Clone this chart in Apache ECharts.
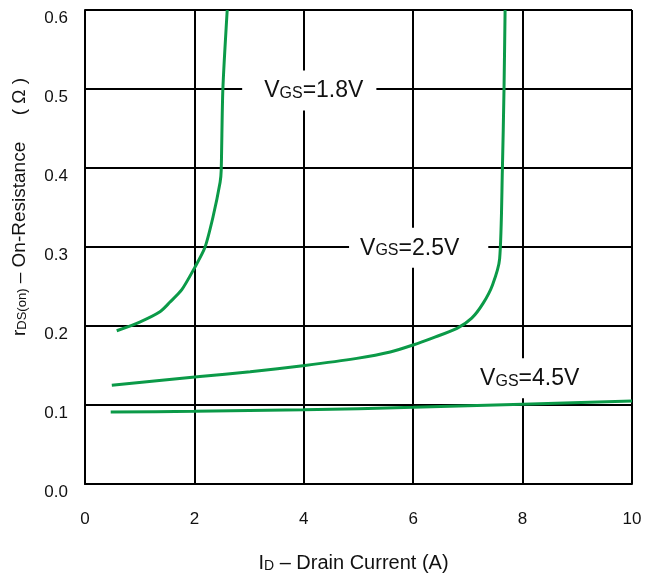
<!DOCTYPE html>
<html>
<head>
<meta charset="utf-8">
<script src="https://cdn.jsdelivr.net/npm/echarts@6/dist/echarts.min.js"></script>
<style>
  html, body { margin: 0; padding: 0; background: #fff; }
  #chart { width: 645px; height: 579px; }
</style>
</head>
<body>
<div id="chart"></div>
<script>
// drain current (A) and on-resistance (ohm)
const id18 = [0.58, 1.0, 1.37, 1.55, 1.77, 1.99, 2.19, 2.34, 2.47, 2.49, 2.52, 2.60];
const r18 = [0.194, 0.205, 0.218, 0.230, 0.246, 0.272, 0.299, 0.338, 0.382, 0.397, 0.499, 0.6];

const id25 = [0.49, 2.10, 3.02, 4.02, 4.97, 5.58, 6.00, 6.36, 6.80, 7.07, 7.28, 7.45, 7.58, 7.63, 7.66, 7.68];
const r25 = [0.125, 0.136, 0.142, 0.150, 0.159, 0.167, 0.176, 0.185, 0.197, 0.210, 0.229, 0.252, 0.285, 0.397, 0.499, 0.6];

const id45 = [0.47, 2, 4, 6, 8, 10];
const r45 = [0.091, 0.092, 0.094, 0.097, 0.101, 0.105];

const xTicks = [0, 2, 4, 6, 8, 10];
const yTicks = [0, 0.1, 0.2, 0.3, 0.4, 0.5, 0.6];

// curve labels: gate voltage and where the label sits (data coords)
const vgsLabels = ['1.8V', '2.5V', '4.5V'];
const labelX = [4.1, 6.1, 8.13];
const labelY = [0.498, 0.299, 0.134];

const green = '#0b9a48';
const font = 'Liberation Sans, Arial, sans-serif';

const pairs = (xs, ys) => xs.map((x, i) => [x, ys[i]]);

const curve = (name, xs, ys) => ({
  name: name,
  type: 'line',
  data: pairs(xs, ys),
  showSymbol: false,
  smooth: 0.25,
  lineStyle: { color: green, width: 3 },
  emphasis: { disabled: true },
  z: 3
});

const labelPads = [[8, 13, 8, 22], [8, 29, 8, 11], [8, 6, 8, 6]];

const labelSeries = {
  type: 'scatter',
  symbolSize: 0,
  silent: true,
  z: 2,
  itemStyle: { opacity: 1 },
  emphasis: { disabled: true },
  data: vgsLabels.map((v, i) => ({
    value: [labelX[i], labelY[i]],
    label: {
      show: true,
      position: 'inside',
      formatter: '{a|V}{b|GS}{a|=' + v + '}',
      backgroundColor: '#fff',
      padding: labelPads[i],
      rich: {
        a: { fontSize: 23, fontFamily: font, color: '#111', lineHeight: 24, verticalAlign: 'bottom' },
        b: { fontSize: 16, fontFamily: font, color: '#111', lineHeight: 24, verticalAlign: 'bottom', padding: [0, 0, 1, 0] }
      }
    }
  }))
};

const nameRich = {
  m: { fontSize: 19, fontFamily: font, color: '#111', verticalAlign: 'bottom', lineHeight: 22 },
  s: { fontSize: 13, fontFamily: font, color: '#111', verticalAlign: 'bottom', lineHeight: 20 }
};
const xNameRich = {
  m: { fontSize: 20, fontFamily: font, color: '#111', verticalAlign: 'bottom', lineHeight: 22 },
  s: { fontSize: 14, fontFamily: font, color: '#111', verticalAlign: 'bottom', lineHeight: 20 }
};

const option = {
  animation: false,
  backgroundColor: '#fff',
  grid: { left: 85, right: 13, top: 10, bottom: 95, containLabel: false },
  xAxis: {
    type: 'value',
    min: xTicks[0],
    max: xTicks[xTicks.length - 1],
    interval: 2,
    name: '{m|I}{s|D}{m| – Drain Current (A)}',
    nameLocation: 'middle',
    nameGap: 67,
    nameTextStyle: { rich: xNameRich, padding: [0, 10, 0, 0] },
    axisLine: { show: true, lineStyle: { color: '#000', width: 2 } },
    axisTick: { show: false },
    axisLabel: { margin: 27, fontSize: 17, fontFamily: font, color: '#111' },
    splitLine: { show: true, lineStyle: { color: '#000', width: 2 } }
  },
  yAxis: {
    type: 'value',
    min: yTicks[0],
    max: yTicks[yTicks.length - 1],
    interval: 0.1,
    name: '{m|r}{s|DS(on)}{m| – On-Resistance     ( Ω )}',
    nameLocation: 'middle',
    nameGap: 56,
    nameTextStyle: { rich: nameRich, padding: [0, 0, 0, 80] },
    axisLine: { show: true, lineStyle: { color: '#000', width: 2 } },
    axisTick: { show: false },
    axisLabel: {
      margin: 17, fontSize: 17, fontFamily: font, color: '#111',
      verticalAlign: 'top',
      formatter: v => v.toFixed(1)
    },
    splitLine: { show: true, lineStyle: { color: '#000', width: 2 } }
  },
  series: [
    curve('1.8V', id18, r18),
    curve('2.5V', id25, r25),
    curve('4.5V', id45, r45),
    labelSeries
  ]
};

const myChart = echarts.init(document.getElementById('chart'));
myChart.setOption(option);
</script>
</body>
</html>
